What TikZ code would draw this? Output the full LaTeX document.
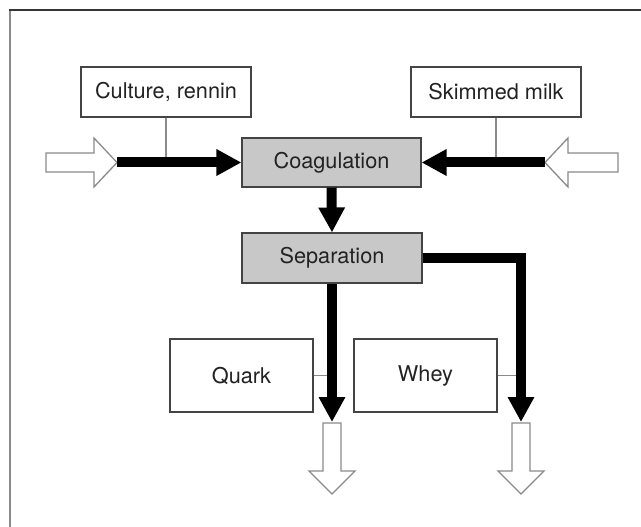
\documentclass[tikz,border=0pt]{standalone}
\usepackage{fontspec}
\setmainfont{TeX Gyre Heros}
\usetikzlibrary{arrows.meta}
\definecolor{boxgray}{HTML}{C8C8C8}
\definecolor{txt}{HTML}{222222}
\definecolor{edge}{HTML}{444444}
\definecolor{thinline}{HTML}{8A8A8A}
\tikzset{
  lbl/.style={draw=edge, line width=1.1pt, inner sep=0pt, text=txt,
    font=\fontsize{21.7}{26}\selectfont, anchor=center},
  whitebox/.style={lbl, fill=white},
  graybox/.style={lbl, fill=boxgray},
  blk/.style={line width=10pt, black, -{Triangle[width=25pt,length=25pt]}},
  blkplain/.style={line width=10pt, black},
  conn/.style={thinline, line width=1.5pt},
  hollow/.style={draw=thinline, fill=white, line width=1.3pt, line join=miter}
}
\begin{document}
\begin{tikzpicture}[x=1pt,y=-1pt]
\useasboundingbox (0,0) rectangle (641,527);
% frame
\draw[thinline, line width=2pt] (10,527) -- (10,10);
\draw[edge!80!black, line width=1.5pt] (9,10) -- (641,10);

% boxes
\node[whitebox, minimum width=170pt, minimum height=50pt] (cult) at (166,92) {Culture, rennin};
\node[whitebox, minimum width=170pt, minimum height=50pt] (skim) at (496,92) {Skimmed milk};
\node[graybox, minimum width=179pt, minimum height=49pt] (coag) at (331.5,162.5) {Coagulation};
\node[graybox, minimum width=180pt, minimum height=50pt] (sep) at (332,258) {Separation};
\node[whitebox, minimum width=143pt, minimum height=73pt] (quark) at (241.5,375.5) {Quark};
\node[whitebox, minimum width=143pt, minimum height=73pt] (whey) at (425.5,375.5) {Whey};

% coordinates for free ends
\coordinate (inL) at (117,162.5);
\coordinate (inR) at (545,162.5);
\coordinate (outQ) at (332,422);
\coordinate (bend) at (521,258);
\coordinate (outW) at (521,422);

% hollow arrows
\draw[hollow] (46,153) -- (94,153) -- (94,138) -- (inL) -- (94,187) -- (94,172) -- (46,172) -- cycle;
\draw[hollow] (618,153) -- (568,153) -- (568,138) -- (inR) -- (568,187) -- (568,172) -- (618,172) -- cycle;
\draw[hollow] (323,423) -- (341,423) -- (341,471) -- (355,471) -- (332,494) -- (309,471) -- (323,471) -- cycle;
\draw[hollow] (512,423) -- (530,423) -- (530,471) -- (544,471) -- (521,494) -- (498,471) -- (512,471) -- cycle;

% thin connectors
\draw[conn] (cult.south) -- (cult.south |- inL);
\draw[conn] (skim.south) -- (skim.south |- inR);
\draw[conn] (quark.east) -- (quark.east -| outQ);
\draw[conn] (whey.east) -- (whey.east -| outW);

% black flow arrows
\draw[blk] (inL) -- (coag.west);
\draw[blk] (inR) -- (coag.east);
\draw[blk] (coag.south) -- (sep.north);
\draw[blk] (sep.south) -- (outQ);
\draw[blkplain] (sep.east) -- (bend) -- ++(0,25);
\draw[blk, line join=miter] (sep.east) -- (bend) -- (outW);
\end{tikzpicture}
\end{document}
